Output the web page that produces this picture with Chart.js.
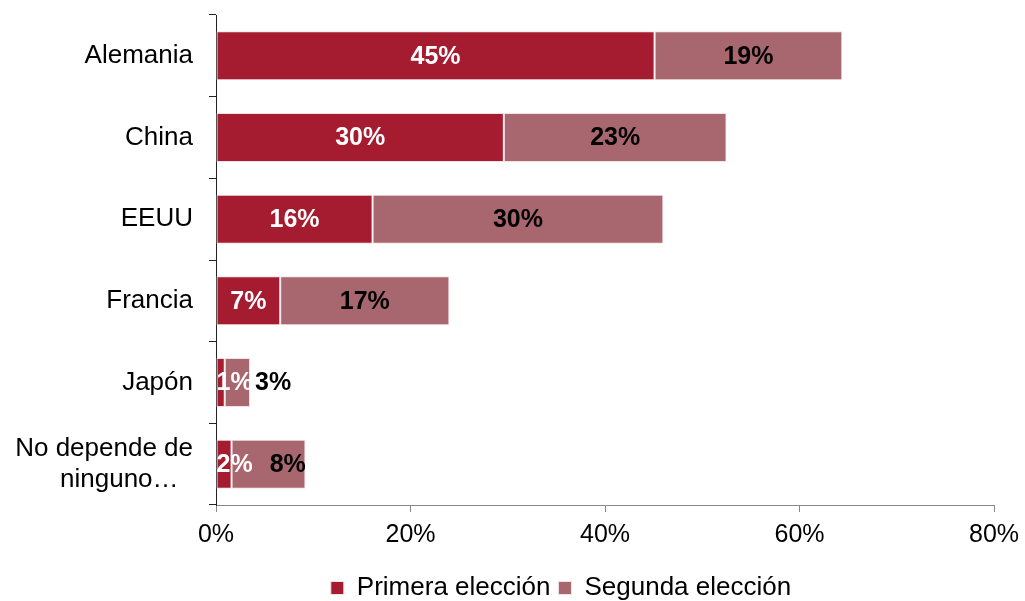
<!DOCTYPE html>
<html>
<head>
<meta charset="utf-8">
<script src="https://cdn.jsdelivr.net/npm/chart.js@4/dist/chart.umd.min.js"></script>
<style>
  html, body { margin: 0; padding: 0; background: #fff; }
  #wrap { width: 1025px; height: 601px; }
</style>
</head>
<body>
<div id="wrap"><canvas id="chart"></canvas></div>
<script>
const categories = ["Alemania", "China", "EEUU", "Francia", "Japón", ["No depende de", "ninguno…  "]];
const primera = [45.1, 29.6, 16.1, 6.6, 0.9, 1.6];
const segunda = [19.3, 22.9, 29.9, 17.4, 2.6, 7.6];
const seriesNames = ["Primera elección", "Segunda elección"];
const xMin = 0, xMax = 80, xStep = 20;

const FONT = "'Liberation Sans', Arial, sans-serif";

// etiquetas de datos dentro de las barras
const barLabels = {
    id: "barLabels",
    afterDatasetsDraw(chart) {
        const ctx = chart.ctx;
        ctx.save();
        ctx.font = "bold 25px " + FONT;
        ctx.textBaseline = "middle";
        const prevRight = [];
        chart.data.datasets.forEach((ds, di) => {
            const meta = chart.getDatasetMeta(di);
            meta.data.forEach((bar, i) => {
                const text = Math.round(ds.data[i]) + "%";
                const w = ctx.measureText(text).width;
                const left = Math.min(bar.x, bar.base);
                const right = Math.max(bar.x, bar.base);
                let x = (left + right) / 2;
                ctx.textAlign = "center";
                if (di === 0) {
                    ctx.fillStyle = "#ffffff";
                    x = Math.max(x, left + w / 2);
                    prevRight[i] = x + w / 2;
                } else {
                    ctx.fillStyle = "#000000";
                    if (right - left < w + 4) {
                        ctx.textAlign = "left";
                        x = right + 5;
                    } else {
                        // no pisar la etiqueta anterior
                        x = Math.max(x, prevRight[i] + 17 + w / 2);
                    }
                }
                ctx.fillText(text, x, bar.y + 1);
            });
        });
        ctx.restore();
    }
};

// mover la leyenda un poco (centrada como en el original)
const legendShift = {
    id: "legendShift",
    afterLayout(chart) {
        const lg = chart.legend;
        if (!lg) return;
        lg.left = 128;
        lg.width = lg.right - lg.left;
        lg.top += 10;
        lg.bottom += 10;
    }
};

new Chart(document.getElementById("chart"), {
    type: "bar",
    data: {
        labels: categories,
        datasets: [
            { label: seriesNames[0], data: primera, backgroundColor: "#A51B30", borderColor: "#F3E1E4", borderWidth: 1, borderSkipped: false },
            { label: seriesNames[1], data: segunda, backgroundColor: "#A8666E", borderColor: "#F3E1E4", borderWidth: 1, borderSkipped: false }
        ]
    },
    options: {
        indexAxis: "y",
        responsive: true,
        maintainAspectRatio: false,
        animation: false,
        datasets: { bar: { categoryPercentage: 0.6, barPercentage: 1.0 } },
        layout: { padding: { top: 15, right: 31, left: 0, bottom: 0 } },
        plugins: {
            tooltip: { enabled: false },
            legend: {
                position: "bottom",
                labels: {
                    font: { family: FONT, size: 26 },
                    color: "#000",
                    boxWidth: 13,
                    boxHeight: 13,
                    padding: 8
                }
            }
        },
        scales: {
            x: {
                stacked: true,
                min: xMin,
                max: xMax,
                ticks: {
                    stepSize: xStep,
                    callback: v => v + "%",
                    font: { family: FONT, size: 25 },
                    color: "#000",
                    padding: 8,
                    maxRotation: 0
                },
                grid: { drawOnChartArea: false, tickLength: 7, color: "#888" },
                border: { color: "#888", width: 1 },
                afterFit: s => { s.height = 52; s.paddingLeft = 0; s.paddingRight = 0; }
            },
            y: {
                stacked: true,
                ticks: {
                    font: { family: FONT, size: 26 },
                    color: "#000",
                    padding: 16
                },
                grid: { drawOnChartArea: false, offset: true, tickLength: 7, color: "#222" },
                border: { color: "#222", width: 1 },
                afterFit: s => { s.width = 216; s.paddingTop = 0; s.paddingBottom = 0; }
            }
        }
    },
    plugins: [barLabels, legendShift]
});
</script>
</body>
</html>
